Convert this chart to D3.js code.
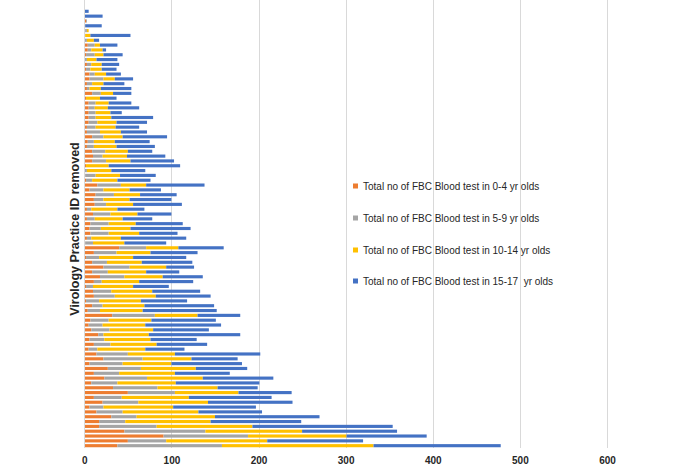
<!DOCTYPE html>
<html>
<head>
<meta charset="utf-8">
<script src="https://cdn.jsdelivr.net/npm/d3@7"></script>
<style>
  html, body { margin: 0; padding: 0; background: #fff; }
  svg { display: block; }
</style>
</head>
<body>
<svg id="chart" width="684" height="468"></svg>
<script>
// Categories (practice IDs removed in the source)
const categories = d3.range(1, 92).map(i => "Practice " + i);

const seriesNames = [
  "Total no of FBC Blood test in 0-4 yr olds",
  "Total no of FBC Blood test in 5-9 yr olds",
  "Total no of FBC Blood test in 10-14 yr olds",
  "Total no of FBC Blood test in 15-17  yr olds"
];

const age0to4 = [0,0,2,0,1,1,0,4,4,2, 0,3,2,6,6,3,3,9,2,5, 5,5,5,5,3,3,9,4,3,9,
  10,9,2,0,1,2,15,6,13,11, 12,3,10,3,7,6,7,3,1,40, 11,2,9,22,9,18,11,2,10,11,
  2,9,4,32,7,5,8,16,6,11, 5,14,22,6,27,11,23,8,33,50, 11,21,6,14,31,17,17,46,91,50, 38];

const age5to9 = [0,0,1,0,2,0,3,8,4,10, 3,5,5,6,16,6,3,10,0,8, 7,8,8,10,10,15,13,7,8,15,
  11,16,0,3,12,7,27,16,21,11, 13,5,20,9,21,13,21,5,9,31, 26,15,17,30,18,28,9,8,21,24,
  15,12,14,49,21,16,21,6,17,19, 10,36,45,38,38,29,49,30,51,54, 32,41,16,30,29,30,66,93,97,44, 120];

const age10to14 = [0,0,0,1,2,6,8,6,13,10, 11,12,13,13,13,13,13,14,16,15, 15,17,18,22,23,24,22,24,26,26,
  28,28,26,28,28,29,29,30,30,30, 31,30,31,32,31,34,35,34,36,37, 39,39,40,42,44,44,43,46,47,47,
  48,48,49,49,49,49,50,52,53,53, 55,54,56,56,63,64,64,67,69,73, 77,80,80,87,90,98,110,111,113,116, 174];

const age15to17 = [5,21,0,19,0,46,6,20,4,22, 24,20,17,17,21,24,35,21,19,26, 36,13,48,35,27,30,51,40,44,28,
  44,50,82,39,41,38,67,36,42,48, 56,31,39,34,54,69,44,75,48,52, 54,61,58,32,38,46,62,41,55,63,
  53,80,85,49,74,87,64,105,53,58, 45,98,53,81,59,63,81,96,46,61, 95,97,95,73,120,104,161,109,92,110, 146];

const xTicks = [0, 100, 200, 300, 400, 500, 600];
const colors = ["#ED7D31", "#A5A5A5", "#FFC000", "#4472C4"];

// Build table
const keys = ["a", "b", "c", "d"];
const table = categories.map((c, i) => ({
  cat: c, a: age0to4[i], b: age5to9[i], c: age10to14[i], d: age15to17[i]
}));
const stacked = d3.stack().keys(keys)(table);

const svg = d3.select("#chart");
const plot = { left: 84.3, right: 607, top: 0, bottom: 448 };

const x = d3.scaleLinear().domain([0, 600]).range([plot.left, plot.right]);
const y = d3.scaleBand().domain(categories).range([8.9, 448.1])
  .paddingInner(0.35).paddingOuter(0.175);

// Gridlines via axis
const grid = svg.append("g")
  .attr("transform", `translate(0,${plot.bottom})`)
  .call(d3.axisBottom(x).tickValues(xTicks).tickSize(-(plot.bottom - plot.top)).tickFormat(""));
grid.select(".domain").remove();
grid.selectAll("line").attr("stroke", "#d9d9d9").attr("stroke-width", 1)
  .attr("shape-rendering", "crispEdges");

// Bars
svg.append("g").selectAll("g")
  .data(stacked)
  .join("g")
  .attr("fill", (d, i) => colors[i])
  .selectAll("rect")
  .data(d => d)
  .join("rect")
  .attr("x", d => x(d[0]))
  .attr("width", d => Math.max(0, x(d[1]) - x(d[0])))
  .attr("y", d => y(d.data.cat))
  .attr("height", y.bandwidth());

// Tick labels
const xAxis = svg.append("g")
  .attr("transform", `translate(0,${plot.bottom})`)
  .call(d3.axisBottom(x).tickValues(xTicks).tickSize(0).tickPadding(9).tickFormat(d3.format("d")));
xAxis.select(".domain").remove();
xAxis.selectAll("text")
  .attr("font-family", "'Liberation Sans', Arial, sans-serif")
  .attr("font-size", 10)
  .attr("font-weight", "bold")
  .attr("fill", "#262626");

// Left axis line
svg.append("line")
  .attr("x1", plot.left).attr("x2", plot.left)
  .attr("y1", plot.top).attr("y2", plot.bottom)
  .attr("stroke", "#d9d9d9").attr("shape-rendering", "crispEdges");

// Y axis title
svg.append("text")
  .attr("transform", `translate(79,229) rotate(-90)`)
  .attr("text-anchor", "middle")
  .attr("font-family", "'Liberation Sans', Arial, sans-serif")
  .attr("font-size", 12.5)
  .attr("font-weight", "bold")
  .attr("fill", "#262626")
  .text("Virology Practice ID removed");

// Legend
const legendY = [186, 218, 250, 281];
const legend = svg.append("g");
seriesNames.forEach((name, i) => {
  legend.append("rect")
    .attr("x", 353).attr("y", legendY[i] - 2.5)
    .attr("width", 5).attr("height", 5)
    .attr("fill", colors[i]);
  legend.append("text")
    .attr("x", 363).attr("y", legendY[i])
    .attr("dy", "0.35em")
    .attr("font-family", "'Liberation Sans', Arial, sans-serif")
    .attr("font-size", 10)
    .attr("fill", "#262626")
    .attr("xml:space", "preserve")
    .style("white-space", "pre")
    .text(name);
});
</script>
</body>
</html>
